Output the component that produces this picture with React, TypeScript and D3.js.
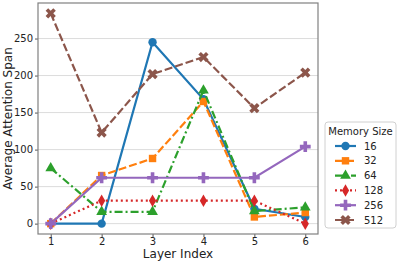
import React, {useEffect, useRef} from 'react';
import * as d3 from 'd3';

const layers = [1, 2, 3, 4, 5, 6];
const seriesNames = ['16', '32', '64', '128', '256', '512'];
const s16 = [0, 0, 245, 168, 20, 9];
const s32 = [0, 65, 88, 165, 9, 15];
const s64 = [75, 16, 16, 180, 17, 22];
const s128 = [0, 31, 31, 31, 31, 0];
const s256 = [0, 62, 62, 62, 62, 104];
const s512 = [284, 123, 202, 225, 156, 204];
const yTicks = [0, 50, 100, 150, 200, 250];

const colors = ['#1f77b4', '#ff7f0e', '#2ca02c', '#d62728', '#9467bd', '#8c564b'];
const dashes = ['none', '8,3', '8,3,2,3', '2,3', 'none', '8,3'];
const shapes = ['circle', 'square', 'triangle', 'diamond', 'plus', 'x'];

function App() {
    const ref = useRef<SVGSVGElement>(null);

    useEffect(() => {
        const svg = d3.select(ref.current);
        svg.selectAll('*').remove();

        const plot = {left: 38, right: 318, top: 3, bottom: 234};
        const x = d3.scaleLinear().domain([0.75, 6.25]).range([plot.left, plot.right]);
        const y = d3.scaleLinear().domain([-14, 298]).range([plot.bottom, plot.top]);
        const font = 'DejaVu Sans, sans-serif';

        // grid
        svg.append('g')
            .selectAll('line')
            .data(yTicks)
            .enter()
            .append('line')
            .attr('x1', plot.left).attr('x2', plot.right)
            .attr('y1', (d) => y(d)).attr('y2', (d) => y(d))
            .attr('stroke', '#dcdcdc').attr('stroke-width', 1);

        const yAxis = svg.append('g')
            .attr('transform', `translate(${plot.left},0)`)
            .call(d3.axisLeft(y).tickValues(yTicks).tickSize(3).tickPadding(2));
        const xAxis = svg.append('g')
            .attr('transform', `translate(0,${plot.bottom})`)
            .call(d3.axisBottom(x).tickValues(layers).tickFormat(d3.format('d')).tickSize(3).tickPadding(1));
        [yAxis, xAxis].forEach((ax) => {
            ax.select('.domain').remove();
            ax.selectAll('line').attr('stroke', '#555');
            ax.selectAll('text').attr('font-family', font).attr('font-size', 10).attr('fill', '#222');
        });

        // frame
        svg.append('rect')
            .attr('x', plot.left).attr('y', plot.top)
            .attr('width', plot.right - plot.left).attr('height', plot.bottom - plot.top)
            .attr('fill', 'none').attr('stroke', '#808080').attr('stroke-width', 1.2);

        const all = [s16, s32, s64, s128, s256, s512];
        const line = d3.line<number>().x((_, i) => x(layers[i])).y((d) => y(d));

        const symbolFor = (shape: string) => {
            if (shape === 'circle') return d3.symbol(d3.symbolCircle, 55);
            if (shape === 'square') return d3.symbol(d3.symbolSquare, 55);
            if (shape === 'triangle') return d3.symbol(d3.symbolTriangle, 50);
            if (shape === 'diamond') return d3.symbol(d3.symbolDiamond, 45);
            return d3.symbol(d3.symbolCross, 65);
        };
        const rot = (shape: string) => (shape === 'x' ? 45 : 0);

        all.forEach((vals, k) => {
            const g = svg.append('g');
            g.append('path')
                .attr('d', line(vals))
                .attr('fill', 'none')
                .attr('stroke', colors[k])
                .attr('stroke-width', 2.2)
                .attr('stroke-dasharray', dashes[k]);
            g.selectAll('path.m')
                .data(vals)
                .enter()
                .append('path')
                .attr('class', 'm')
                .attr('d', symbolFor(shapes[k])())
                .attr('fill', colors[k])
                .attr('transform', (d, i) => `translate(${x(layers[i])},${y(d)}) rotate(${rot(shapes[k])})`);
        });

        // axis labels
        svg.append('text')
            .attr('x', (plot.left + plot.right) / 2).attr('y', 258)
            .attr('text-anchor', 'middle')
            .attr('font-family', font).attr('font-size', 12).attr('fill', '#222')
            .text('Layer Index');
        svg.append('text')
            .attr('transform', `translate(12,${(plot.top + plot.bottom) / 2}) rotate(-90)`)
            .attr('text-anchor', 'middle')
            .attr('font-family', font).attr('font-size', 12).attr('fill', '#222')
            .text('Average Attention Span');

        // legend
        const lg = svg.append('g');
        lg.append('rect')
            .attr('x', 325).attr('y', 122).attr('width', 71).attr('height', 106)
            .attr('rx', 3)
            .attr('fill', 'white').attr('stroke', '#d0d0d0');
        lg.append('text')
            .attr('x', 360.5).attr('y', 135)
            .attr('text-anchor', 'middle')
            .attr('font-family', font).attr('font-size', 10).attr('fill', '#222')
            .text('Memory Size');
        seriesNames.forEach((name, k) => {
            const yy = 146 + k * 14.8;
            lg.append('line')
                .attr('x1', 335).attr('x2', 356).attr('y1', yy).attr('y2', yy)
                .attr('stroke', colors[k]).attr('stroke-width', 2.2)
                .attr('stroke-dasharray', dashes[k]);
            lg.append('path')
                .attr('d', symbolFor(shapes[k])())
                .attr('fill', colors[k])
                .attr('transform', `translate(345.5,${yy}) rotate(${rot(shapes[k])})`);
            lg.append('text')
                .attr('x', 364).attr('y', yy + 3.5)
                .attr('font-family', font).attr('font-size', 10).attr('fill', '#222')
                .text(name);
        });
    }, []);

    return (
        <svg ref={ref} width={399} height={263}
             style={{position: 'absolute', left: 0, top: 0, background: 'white'}}/>
    );
}

export default App;
